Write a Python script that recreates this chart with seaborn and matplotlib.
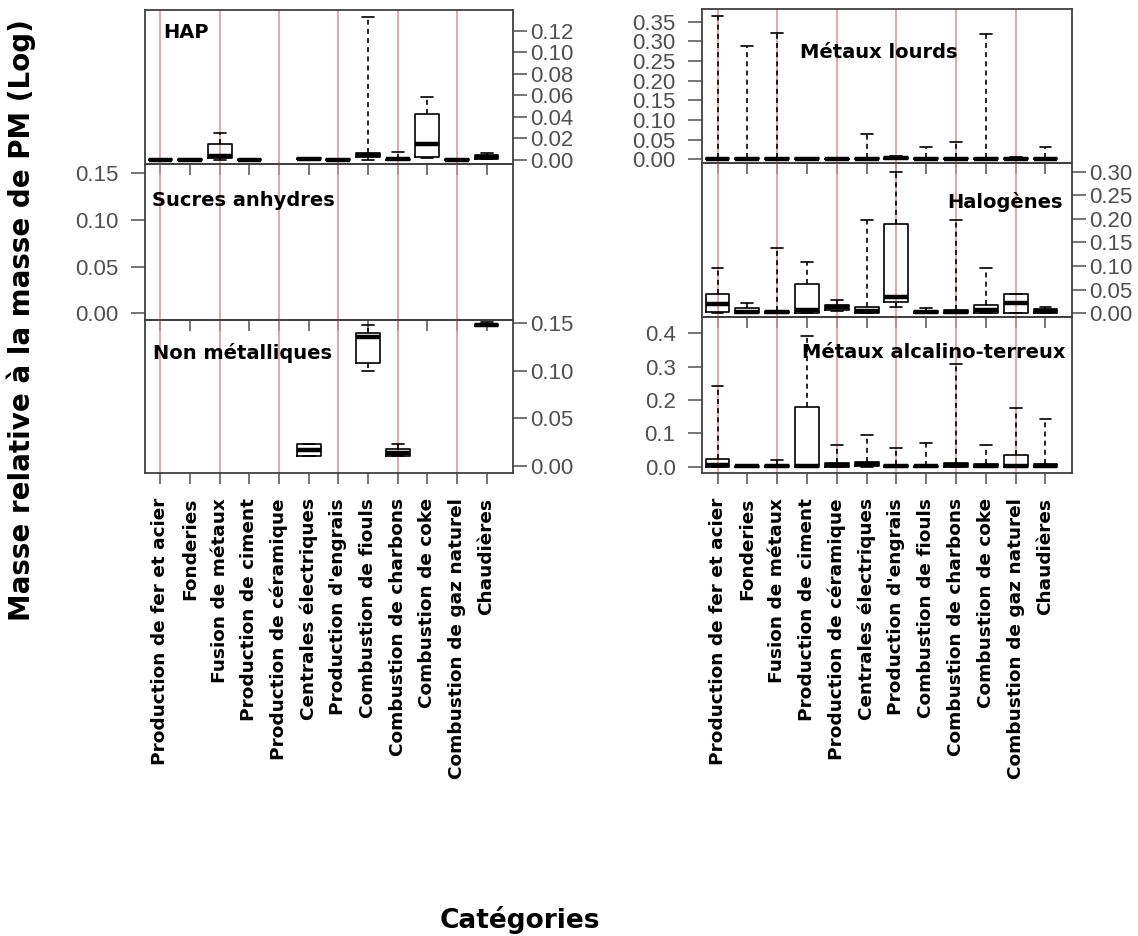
import numpy as np
import pandas as pd
import seaborn as sns
import matplotlib.pyplot as plt
from matplotlib.ticker import FixedLocator, FormatStrFormatter

categories = ["Production de fer et acier", "Fonderies", "Fusion de métaux",
              "Production de ciment", "Production de céramique", "Centrales électriques",
              "Production d'engrais", "Combustion de fiouls", "Combustion de charbons",
              "Combustion de coke", "Combustion de gaz naturel", "Chaudières"]

# five-number summaries per category: (min, q1, median, q3, max); None = no data
hap = [
    (0.0, 0.0, 0.0004, 0.0008, 0.001),
    (0.0, 0.0, 0.0004, 0.0008, 0.001),
    (0.0, 0.0015, 0.0037, 0.0149, 0.0254),
    (0.0, 0.0, 0.0004, 0.0008, 0.001),
    None,
    (0.0005, 0.0008, 0.0012, 0.0017, 0.0022),
    (0.0, 0.0, 0.0004, 0.0008, 0.001),
    (0.0, 0.003, 0.0045, 0.0062, 0.1324),
    (0.0, 0.0002, 0.0006, 0.0012, 0.0077),
    (0.0015, 0.003, 0.0148, 0.0427, 0.0588),
    (0.0, 0.0, 0.0004, 0.0008, 0.001),
    (0.0005, 0.0012, 0.0025, 0.0045, 0.0065),
]
sucres = [None] * 12
non_metalliques = [
    None, None, None, None, None,
    (0.0105, 0.0105, 0.017, 0.023, 0.023),
    None,
    (0.0997, 0.108, 0.135, 0.1395, 0.148),
    (0.010, 0.0105, 0.014, 0.018, 0.023),
    None, None,
    (0.1465, 0.1472, 0.148, 0.1487, 0.1505),
]
metaux_lourds = [
    (0.0, 0.0005, 0.002, 0.004, 0.363),
    (0.0, 0.0003, 0.0015, 0.003, 0.287),
    (0.0, 0.0003, 0.0015, 0.003, 0.320),
    (0.0, 0.0005, 0.002, 0.003, 0.004),
    (0.0, 0.0, 0.001, 0.002, 0.003),
    (0.0, 0.0003, 0.0015, 0.003, 0.0636),
    (0.0, 0.001, 0.003, 0.006, 0.008),
    (0.0, 0.0003, 0.0015, 0.003, 0.032),
    (0.0, 0.0003, 0.0015, 0.003, 0.0448),
    (0.0, 0.0003, 0.0015, 0.003, 0.319),
    (0.0, 0.0005, 0.002, 0.004, 0.005),
    (0.0, 0.0003, 0.0015, 0.003, 0.032),
]
halogenes = [
    (0.0, 0.003, 0.019, 0.040, 0.0966),
    (0.0, 0.001, 0.0035, 0.012, 0.021),
    (0.0, 0.001, 0.003, 0.005, 0.139),
    (0.0, 0.001, 0.007, 0.062, 0.109),
    (0.004, 0.007, 0.0127, 0.0176, 0.028),
    (0.0, 0.001, 0.0055, 0.014, 0.1977),
    (0.014, 0.0246, 0.035, 0.189, 0.300),
    (0.0, 0.0005, 0.002, 0.004, 0.0105),
    (0.0, 0.001, 0.003, 0.006, 0.1977),
    (0.0, 0.001, 0.007, 0.0176, 0.0966),
    (0.0, 0.001, 0.0225, 0.040, 0.040),
    (0.0, 0.001, 0.0045, 0.010, 0.014),
]
alcalino_terreux = [
    (0.0, 0.0, 0.005, 0.023, 0.242),
    (0.0, 0.0, 0.001, 0.002, 0.003),
    (0.0, 0.0, 0.002, 0.004, 0.020),
    (0.0, 0.0, 0.003, 0.180, 0.392),
    (0.0, 0.0, 0.004, 0.012, 0.065),
    (0.0, 0.001, 0.007, 0.015, 0.095),
    (0.0, 0.0, 0.003, 0.005, 0.057),
    (0.0, 0.0, 0.001, 0.002, 0.070),
    (0.0, 0.0, 0.004, 0.012, 0.308),
    (0.0, 0.0, 0.003, 0.007, 0.065),
    (0.0, 0.0, 0.003, 0.035, 0.175),
    (0.0, 0.0, 0.003, 0.008, 0.142),
]

panel_titles = ["HAP", "Sucres anhydres", "Non métalliques",
                "Métaux lourds", "Halogènes", "Métaux alcalino-terreux"]
y_label = "Masse relative à la masse de PM (Log)"
x_label = "Catégories"

sns.set_theme(style="white")
plt.rcParams['font.family'] = ['DejaVu Sans']
plt.rcParams['text.color'] = 'black'

W, H = 1138, 936
fig = plt.figure(figsize=(W / 100, H / 100), dpi=100)
fig.patch.set_facecolor("white")

# layout in pixels: (left, right, top, bottom)
left_col = (145, 513)
right_col = (702, 1072)
rows_left = [(10, 164), (164, 320), (320, 473)]
rows_right = [(9, 163), (163, 317), (317, 473)]

panels = [
    (hap, left_col, rows_left[0], (-0.0037, 0.139), np.arange(0, 0.121, 0.02), "%.2f", "right", 0, (163, 32), "left"),
    (sucres, left_col, rows_left[1], (-0.0072, 0.160), np.arange(0, 0.151, 0.05), "%.2f", "left", 1, (152, 200), "left"),
    (non_metalliques, left_col, rows_left[2], (-0.0073, 0.153), np.arange(0, 0.151, 0.05), "%.2f", "right", 2, (153, 353), "left"),
    (metaux_lourds, right_col, rows_right[0], (-0.0094, 0.382), np.arange(0, 0.351, 0.05), "%.2f", "left", 3, (800, 53), "left"),
    (halogenes, right_col, rows_right[1], (-0.0078, 0.318), np.arange(0, 0.301, 0.05), "%.2f", "right", 4, (1063, 202), "right"),
    (alcalino_terreux, right_col, rows_right[2], (-0.019, 0.449), np.arange(0, 0.41, 0.1), "%.1f", "left", 5, (1065, 352), "right"),
]

tick_gray = "#505050"
spine_col = "#404040"
red_col = "#dc8f8f"

for data, col, row, ylim, ticks, fmt, side, ti, tpos, ha in panels:
    x0, x1 = col
    t, b = row
    ax = fig.add_axes([x0 / W, 1 - b / H, (x1 - x0) / W, (b - t) / H])
    ax.set_facecolor("none")
    recs = []
    for cat, s in zip(categories, data):
        if s is None:
            continue
        for v in s:
            recs.append({"cat": cat, "val": v})
    if recs:
        df = pd.DataFrame(recs)
        sns.boxplot(data=df, x="cat", y="val", order=categories, fill=False,
                    color="black", width=0.8, whis=np.inf, linewidth=1.2,
                    medianprops={"linewidth": 3.2},
                    whiskerprops={"linestyle": (0, (3, 2.5))},
                    ax=ax)
    for k in range(0, 12, 2):
        ax.axvline(k, color=red_col, lw=1.1, zorder=0.5)
    ax.set_xlim(-0.52, 11.89)
    ax.set_ylim(*ylim)
    ax.set_xticks(range(12))
    ax.set_xlabel("")
    ax.set_ylabel("")
    ax.yaxis.set_major_locator(FixedLocator(ticks))
    ax.yaxis.set_major_formatter(FormatStrFormatter(fmt))
    if side == "right":
        ax.yaxis.tick_right()
        ax.tick_params(axis="y", which="both", left=False, labelleft=False,
                       right=True, labelright=True, pad=2)
    else:
        ax.yaxis.tick_left()
        ax.tick_params(axis="y", which="both", right=False, labelright=False,
                       left=True, labelleft=True, pad=9)
    ax.tick_params(axis="y", direction="out", length=10, width=1.1,
                   color=tick_gray, labelcolor=tick_gray, labelsize=16)
    for lab in ax.get_yticklabels():
        lab.set_fontfamily("Liberation Sans")
    ax.tick_params(axis="x", direction="out", length=8, width=1.1,
                   color=tick_gray, bottom=True)
    if row[1] == 473:
        ax.set_xticklabels(categories, rotation=90, fontsize=13.3,
                           fontweight="bold", color="black")
        ax.tick_params(axis="x", pad=10)
    else:
        ax.tick_params(axis="x", labelbottom=False)
    for sp in ax.spines.values():
        sp.set_visible(True)
        sp.set_color(spine_col)
        sp.set_linewidth(1.3)
    fig.text(tpos[0] / W, 1 - tpos[1] / H, panel_titles[ti], ha=ha, va="center",
             fontsize=14, fontweight="bold", color="black")

fig.text(21 / W, 1 - 320 / H, y_label, rotation=90, ha="center", va="center",
         fontsize=20, fontweight="bold", color="black")
fig.text(520 / W, 1 - 920 / H, x_label, ha="center", va="center",
         fontsize=19, fontweight="bold", color="black")

fig.savefig("out.png", dpi=100, facecolor="white")
